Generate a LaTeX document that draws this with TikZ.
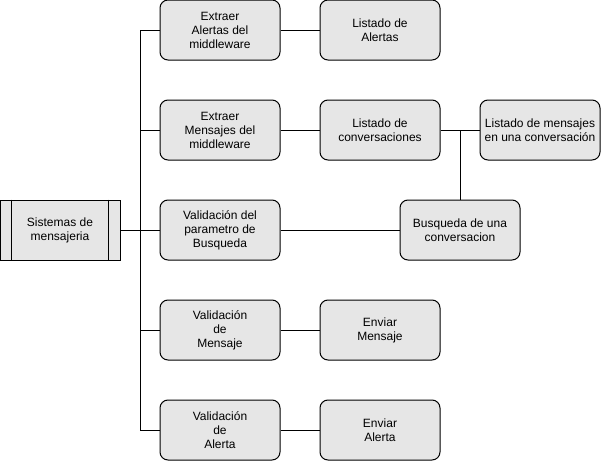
\documentclass[tikz,border=0pt]{standalone}
\usepackage{fontspec}
\setmainfont{Liberation Sans}
\definecolor{boxfill}{HTML}{E6E6E6}
\begin{document}
\begin{tikzpicture}[x=0.75pt,y=-0.75pt,
  box/.style={draw=black,fill=boxfill,rounded corners=6pt,minimum width=90pt,minimum height=45pt,align=center,inner sep=0pt,line width=0.75pt,font=\fontsize{9}{10.5}\selectfont},
  procbox/.style={draw=black,fill=boxfill,minimum width=90pt,minimum height=45pt,align=center,inner sep=0pt,line width=0.75pt,font=\fontsize{9}{10.5}\selectfont},
  conn/.style={draw=black,line width=0.75pt}]
\useasboundingbox (0,0) rectangle (601,461);
\node[procbox] (sis) at (60,230) {Sistemas de\\mensajeria};
\draw[line width=0.75pt] ([xshift=9pt]sis.north west) -- ([xshift=9pt]sis.south west);
\draw[line width=0.75pt] ([xshift=-9pt]sis.north east) -- ([xshift=-9pt]sis.south east);

\node[box] (ea) at (220,30) {Extraer\\Alertas del\\middleware};
\node[box] (em) at (220,130) {Extraer\\Mensajes del\\middleware};
\node[box] (vp) at (220,230) {Validación del\\parametro de\\Busqueda};
\node[box] (vm) at (220,330) {Validación\\de\\Mensaje};
\node[box] (va) at (220,430) {Validación\\de\\Alerta};

\node[box] (la) at (380,30) {Listado de\\Alertas};
\node[box] (lc) at (380,130) {Listado de\\conversaciones};
\node[box] (lm) at (540,130) {Listado de mensajes\\en una conversación};
\node[box] (bu) at (460,230) {Busqueda de una\\conversacion};
\node[box] (env) at (380,330) {Enviar\\Mensaje};
\node[box] (ena) at (380,430) {Enviar\\Alerta};

\coordinate (tt) at (140,30);
\coordinate (tb) at (140,430);
\coordinate (jn) at (460,130);

\draw[conn] (sis.east) -- (140,230);
\draw[conn] (ea.west) -- (tt) -- (tb) -- (va.west);
\draw[conn] (em.west) -- (140,130);
\draw[conn] (vp.west) -- (140,230);
\draw[conn] (vm.west) -- (140,330);

\draw[conn] (ea.east) -- (la.west);
\draw[conn] (em.east) -- (lc.west);
\draw[conn] (lc.east) -- (lm.west);
\draw[conn] (jn) -- (bu.north);
\draw[conn] (vp.east) -- (bu.west);
\draw[conn] (vm.east) -- (env.west);
\draw[conn] (va.east) -- (ena.west);
\end{tikzpicture}
\end{document}
